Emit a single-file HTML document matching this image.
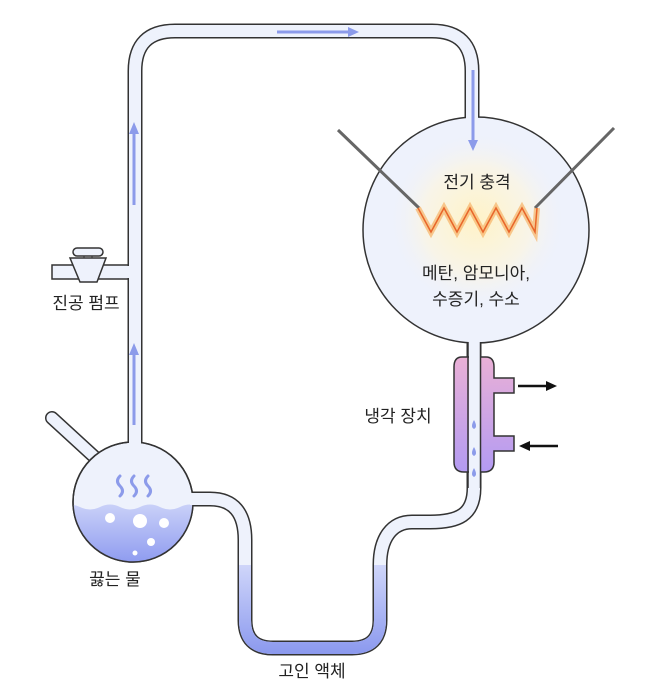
<!DOCTYPE html>
<html><head><meta charset="utf-8"><style>
html,body{margin:0;padding:0;background:#fff;}
svg{display:block;}
text{font-family:"Liberation Sans","Noto Sans CJK KR",sans-serif;font-size:17px;fill:#222;}
</style></head><body>
<svg width="646" height="690" viewBox="0 0 646 690" xmlns="http://www.w3.org/2000/svg">
<defs>
<linearGradient id="liq" x1="0" y1="560" x2="0" y2="655" gradientUnits="userSpaceOnUse">
<stop offset="0" stop-color="#d3d9fa"/><stop offset="1" stop-color="#8a98ee"/></linearGradient>
<linearGradient id="fl" x1="0" y1="505" x2="0" y2="562" gradientUnits="userSpaceOnUse">
<stop offset="0" stop-color="#c9d0f8"/><stop offset="1" stop-color="#8f9cf0"/></linearGradient>
<linearGradient id="cond" x1="0" y1="357" x2="0" y2="470" gradientUnits="userSpaceOnUse">
<stop offset="0" stop-color="#eab0d6"/><stop offset="1" stop-color="#b49bf2"/></linearGradient>
<radialGradient id="glow" cx="477" cy="220" r="90" gradientUnits="userSpaceOnUse">
<stop offset="0" stop-color="#fff3c8"/><stop offset="0.6" stop-color="#f8f4e8"/><stop offset="1" stop-color="#eef2fc" stop-opacity="0"/></radialGradient>
<clipPath id="fc"><circle cx="133" cy="502" r="60"/></clipPath>
</defs>

<path d="M52,418 L100,462" stroke="#333" stroke-width="14" stroke-linecap="round"/>
<path d="M52,418 L100,462" stroke="#eef2fc" stroke-width="11" stroke-linecap="round"/>

<rect x="52" y="265" width="80" height="14" fill="#eef2fc" stroke="#333" stroke-width="1.5"/>

<path d="M135,450 L135,71 Q135,31 175,31 L432,31 Q472,31 472,71 L472,125" fill="none" stroke="#333" stroke-width="15"/>
<path d="M474,340 L474,488 C474,515 458,522 430,522 L412,522 C392,522 380,538 380,565 L380,620 Q380,648 352,648 L273,648 Q245,648 245,620 L245,540 Q245,499 210,499 L185,499" fill="none" stroke="#333" stroke-width="15"/>

<circle cx="476" cy="230" r="113" fill="#eef2fc" stroke="#333" stroke-width="1.5"/>
<circle cx="476" cy="225" r="95" fill="url(#glow)"/>

<circle cx="133" cy="502" r="60" fill="#eef2fc" stroke="#333" stroke-width="1.5"/>
<g clip-path="url(#fc)">
<path d="M60,508 Q70,502 80,507 T100,507 T120,507 T140,507 T160,507 T180,507 T200,507 L200,570 L60,570 Z" fill="url(#fl)"/>
<circle cx="110" cy="518" r="5" fill="#fff"/><circle cx="140" cy="521" r="7" fill="#fff"/>
<circle cx="164" cy="523" r="5" fill="#fff"/><circle cx="151" cy="542" r="4" fill="#fff"/>
<circle cx="135" cy="553" r="2.5" fill="#fff"/>
</g>
<circle cx="133" cy="502" r="60" fill="none" stroke="#333" stroke-width="1.5"/>

<path d="M135,452 L135,71 Q135,31 175,31 L432,31 Q472,31 472,71 L472,119" fill="none" stroke="#eef2fc" stroke-width="12"/>
<path d="M474,342 L474,488 C474,515 458,522 430,522 L412,522 C392,522 380,538 380,565 L380,620 Q380,648 352,648 L273,648 Q245,648 245,620 L245,540 Q245,499 210,499 L190,499" fill="none" stroke="#eef2fc" stroke-width="12"/>
<path d="M380,565 L380,620 Q380,648 352,648 L273,648 Q245,648 245,620 L245,565" fill="none" stroke="url(#liq)" stroke-width="12"/>
<rect x="122" y="266" width="12" height="12" fill="#eef2fc"/>

<g fill="none" stroke="#8c9bea" stroke-width="3" stroke-linecap="round">
<path d="M120,476 q-5,5 0,10 q5,5 0,10"/>
<path d="M134,476 q-5,5 0,10 q5,5 0,10"/>
<path d="M148,476 q-5,5 0,10 q5,5 0,10"/>
</g>

<g stroke="#8c9bea" stroke-width="3" fill="#8c9bea">
<line x1="277" y1="32" x2="350" y2="32"/><path d="M348,27 L359,32 L348,37Z" stroke="none"/>
<line x1="473" y1="70" x2="473" y2="142"/><path d="M468,140 L473,151 L478,140Z" stroke="none"/>
<line x1="134" y1="205" x2="134" y2="132"/><path d="M129,134 L134,122 L139,134Z" stroke="none"/>
<line x1="134" y1="425" x2="134" y2="353"/><path d="M129,355 L134,343 L139,355Z" stroke="none"/>
</g>

<path d="M70,258 L106,258 L97,282 L80,282 Z" fill="#eef2fc" stroke="#333" stroke-width="1.5"/>
<rect x="73" y="248" width="30" height="8" rx="4" fill="#eef2fc" stroke="#333" stroke-width="1.5"/>
<line x1="84" y1="256" x2="84" y2="258" stroke="#333"/><line x1="92" y1="256" x2="92" y2="258" stroke="#333"/>

<line x1="338" y1="130" x2="419" y2="208" stroke="#666" stroke-width="3"/>
<line x1="614" y1="128" x2="535" y2="208" stroke="#666" stroke-width="3"/>
<polyline points="418,208 431,232 444,208 457,232 470,208 483,232 496,208 509,232 522,208 535,232 537,208" fill="none" stroke="#f7b267" stroke-width="6" opacity="0.7"/>
<polyline points="418,208 431,232 444,208 457,232 470,208 483,232 496,208 509,232 522,208 535,232 537,208" fill="none" stroke="#e8662a" stroke-width="1.5"/>

<path d="M462,357 L486,357 Q494,357 494,367 L494,378 L514,378 L514,393 L494,393 L494,436 L514,436 L514,451 L494,451 L494,462 Q494,472 484,472 L464,472 Q454,472 454,462 L454,367 Q454,357 462,357 Z" fill="url(#cond)" stroke="#333" stroke-width="1.5"/>
<rect x="469" y="350" width="11" height="140" fill="#eef2fc"/>
<line x1="468" y1="342" x2="468" y2="488" stroke="#333" stroke-width="1.5"/>
<line x1="480.5" y1="342" x2="480.5" y2="488" stroke="#333" stroke-width="1.5"/>
<g fill="#8c9bea">
<path d="M474,420 q-4,7 0,9 q4,-2 0,-9Z"/>
<path d="M474,447 q-4,7 0,9 q4,-2 0,-9Z"/>
<path d="M474,468 q-4,7 0,9 q4,-2 0,-9Z"/>
</g>
<g stroke="#111" stroke-width="2.5" fill="#111">
<line x1="518" y1="386" x2="548" y2="386"/><path d="M546,381 L557,386 L546,391Z" stroke="none"/>
<line x1="558" y1="446" x2="528" y2="446"/><path d="M530,441 L519,446 L530,451Z" stroke="none"/>
</g>

<text x="477" y="188" text-anchor="middle">전기 충격</text>
<text x="476" y="279" text-anchor="middle">메탄, 암모니아,</text>
<text x="476" y="305" text-anchor="middle">수증기, 수소</text>
<text x="398" y="422" text-anchor="middle">냉각 장치</text>
<text x="86" y="309" text-anchor="middle">진공 펌프</text>
<text x="115" y="585" text-anchor="middle">끓는 물</text>
<text x="312" y="677" text-anchor="middle">고인 액체</text>
</svg>
</body></html>
